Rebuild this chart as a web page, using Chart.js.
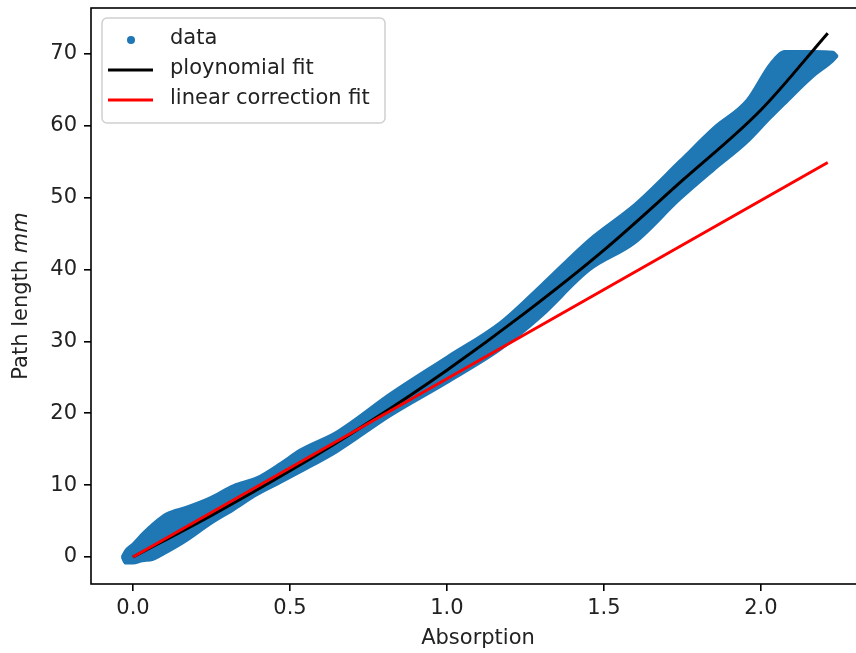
<!DOCTYPE html>
<html>
<head>
<meta charset="utf-8">
<script src="https://cdn.jsdelivr.net/npm/chart.js@4.4.1/dist/chart.umd.min.js"></script>
<style>
  body { margin: 0; overflow: hidden; background: #fff; }
</style>
</head>
<body>
<canvas id="chart" width="872" height="653"></canvas>
<script>
// measured band of data points (outer edges of the scatter cloud)
const bandX     = [-0.036, -0.025, 0.0, 0.03, 0.064, 0.108, 0.17, 0.245, 0.32, 0.395, 0.47, 0.53, 0.65, 0.82, 1.0, 1.17, 1.3, 1.455, 1.6, 1.742, 1.85, 1.955, 2.03, 2.076, 2.166, 2.23, 2.245];
const bandUpper = [0.0, 0.9, 1.9, 3.3, 4.7, 6.1, 7.0, 8.3, 10.0, 11.1, 13.1, 14.9, 17.5, 22.8, 27.9, 32.7, 37.9, 44.3, 49.2, 55.2, 59.8, 63.6, 68.7, 70.4, 70.4, 70.3, 69.7];
const bandLower = [0.0, -0.9, -0.9, -0.6, -0.4, 0.6, 2.2, 4.5, 6.5, 8.6, 10.3, 11.7, 14.6, 19.6, 24.2, 28.8, 33.4, 39.9, 43.7, 49.7, 53.8, 57.6, 61.0, 63.0, 66.8, 69.0, 69.7];

const polyX = [0, 0.25, 0.5, 0.75, 1.0, 1.25, 1.5, 1.75, 2.0, 2.213];
const polyY = [0, 5.8, 12.0, 18.7, 26.0, 34.0, 42.7, 52.4, 62.2, 72.9];

const linX = [0, 2.213];
const linY = [0, 54.9];

const xTicks = [0.0, 0.5, 1.0, 1.5, 2.0];
const yTicks = [0, 10, 20, 30, 40, 50, 60, 70];

const FONT = "'DejaVu Sans', sans-serif";
const FS = 21;

function pts(xs, ys) {
  return xs.map((x, i) => ({ x: x, y: ys[i] }));
}

const frame = {
  id: 'frame',
  afterDraw(chart) {
    const ctx = chart.ctx;
    const a = chart.chartArea;
    ctx.save();
    ctx.strokeStyle = '#000';
    ctx.lineWidth = 1.6;
    ctx.strokeRect(Math.round(a.left), Math.round(a.top), a.right - a.left + 10, Math.round(a.bottom - a.top));

    // axis titles
    ctx.fillStyle = '#222';
    ctx.font = FS + 'px ' + FONT;
    ctx.textAlign = 'center';
    ctx.textBaseline = 'middle';
    ctx.fillText('Absorption', 478, 639);

    ctx.translate(22, (a.top + a.bottom) / 2);
    ctx.rotate(-Math.PI / 2);
    const t1 = 'Path length ';
    const t2 = 'mm';
    ctx.font = FS + 'px ' + FONT;
    const w1 = ctx.measureText(t1).width;
    ctx.font = 'italic ' + FS + 'px ' + FONT;
    const w2 = ctx.measureText(t2).width;
    ctx.textAlign = 'left';
    ctx.font = FS + 'px ' + FONT;
    ctx.fillText(t1, -(w1 + w2) / 2, 0);
    ctx.font = 'italic ' + FS + 'px ' + FONT;
    ctx.fillText(t2, -(w1 + w2) / 2 + w1, 0);
    ctx.restore();

    // legend
    ctx.save();
    ctx.fillStyle = 'rgba(255,255,255,0.8)';
    ctx.strokeStyle = '#d0d0d0';
    ctx.lineWidth = 1.5;
    ctx.beginPath();
    ctx.roundRect(102, 18, 283, 105, 5);
    ctx.fill();
    ctx.stroke();

    ctx.fillStyle = '#1f77b4';
    ctx.beginPath();
    ctx.arc(131, 40, 4, 0, Math.PI * 2);
    ctx.fill();

    ctx.lineWidth = 3;
    ctx.strokeStyle = '#000';
    ctx.beginPath(); ctx.moveTo(108, 70); ctx.lineTo(153, 70); ctx.stroke();
    ctx.strokeStyle = '#ff0000';
    ctx.beginPath(); ctx.moveTo(108, 100); ctx.lineTo(153, 100); ctx.stroke();

    ctx.fillStyle = '#222';
    ctx.font = FS + 'px ' + FONT;
    ctx.textAlign = 'left';
    ctx.textBaseline = 'middle';
    ctx.fillText('data', 170, 39);
    ctx.fillText('ploynomial fit', 170, 69);
    ctx.fillText('linear correction fit', 170, 99);
    ctx.restore();
  }
};

new Chart(document.getElementById('chart'), {
  type: 'line',
  data: {
    datasets: [
      {
        label: 'linear correction fit',
        data: pts(linX, linY),
        borderColor: '#ff0000',
        borderWidth: 3,
        pointRadius: 0,
        fill: false,
        order: 0
      },
      {
        label: 'ploynomial fit',
        data: pts(polyX, polyY),
        borderColor: '#000000',
        borderWidth: 3,
        pointRadius: 0,
        cubicInterpolationMode: 'monotone',
        fill: false,
        order: 1
      },
      {
        label: 'data',
        data: pts(bandX, bandUpper),
        borderColor: '#1f77b4',
        backgroundColor: '#1f77b4',
        borderWidth: 2,
        pointRadius: 0,
        cubicInterpolationMode: 'monotone',
        fill: '+1',
        order: 2
      },
      {
        label: 'data_low',
        data: pts(bandX, bandLower),
        borderColor: '#1f77b4',
        borderWidth: 2,
        pointRadius: 0,
        cubicInterpolationMode: 'monotone',
        fill: false,
        order: 3
      }
    ]
  },
  options: {
    responsive: false,
    animation: false,
    layout: { padding: { top: 8, right: 0, left: 0, bottom: 0 } },
    plugins: {
      legend: { display: false },
      tooltip: { enabled: false }
    },
    scales: {
      x: {
        type: 'linear',
        min: -0.1338,
        max: 2.354,
        afterBuildTicks: (s) => { s.ticks = xTicks.map(v => ({ value: v })); },
        afterFit: (s) => { s.height = 69; s.paddingLeft = 0; s.paddingRight = 0; },
        border: { display: false },
        grid: { display: true, drawOnChartArea: false, drawTicks: true, tickLength: 7, lineWidth: 1.6, color: '#000' },
        ticks: {
          padding: 5,
          color: '#222',
          font: { family: FONT, size: FS },
          callback: (v) => v.toFixed(1)
        }
      },
      y: {
        type: 'linear',
        min: -3.757,
        max: 76.40,
        afterBuildTicks: (s) => { s.ticks = yTicks.map(v => ({ value: v })); },
        afterFit: (s) => { s.width = 91; s.paddingTop = 0; s.paddingBottom = 0; },
        border: { display: false },
        grid: { display: true, drawOnChartArea: false, drawTicks: true, tickLength: 7, lineWidth: 1.6, color: '#000' },
        ticks: {
          padding: 7,
          color: '#222',
          font: { family: FONT, size: FS },
          callback: (v) => String(v)
        }
      }
    }
  },
  plugins: [frame]
});
</script>
</body>
</html>
